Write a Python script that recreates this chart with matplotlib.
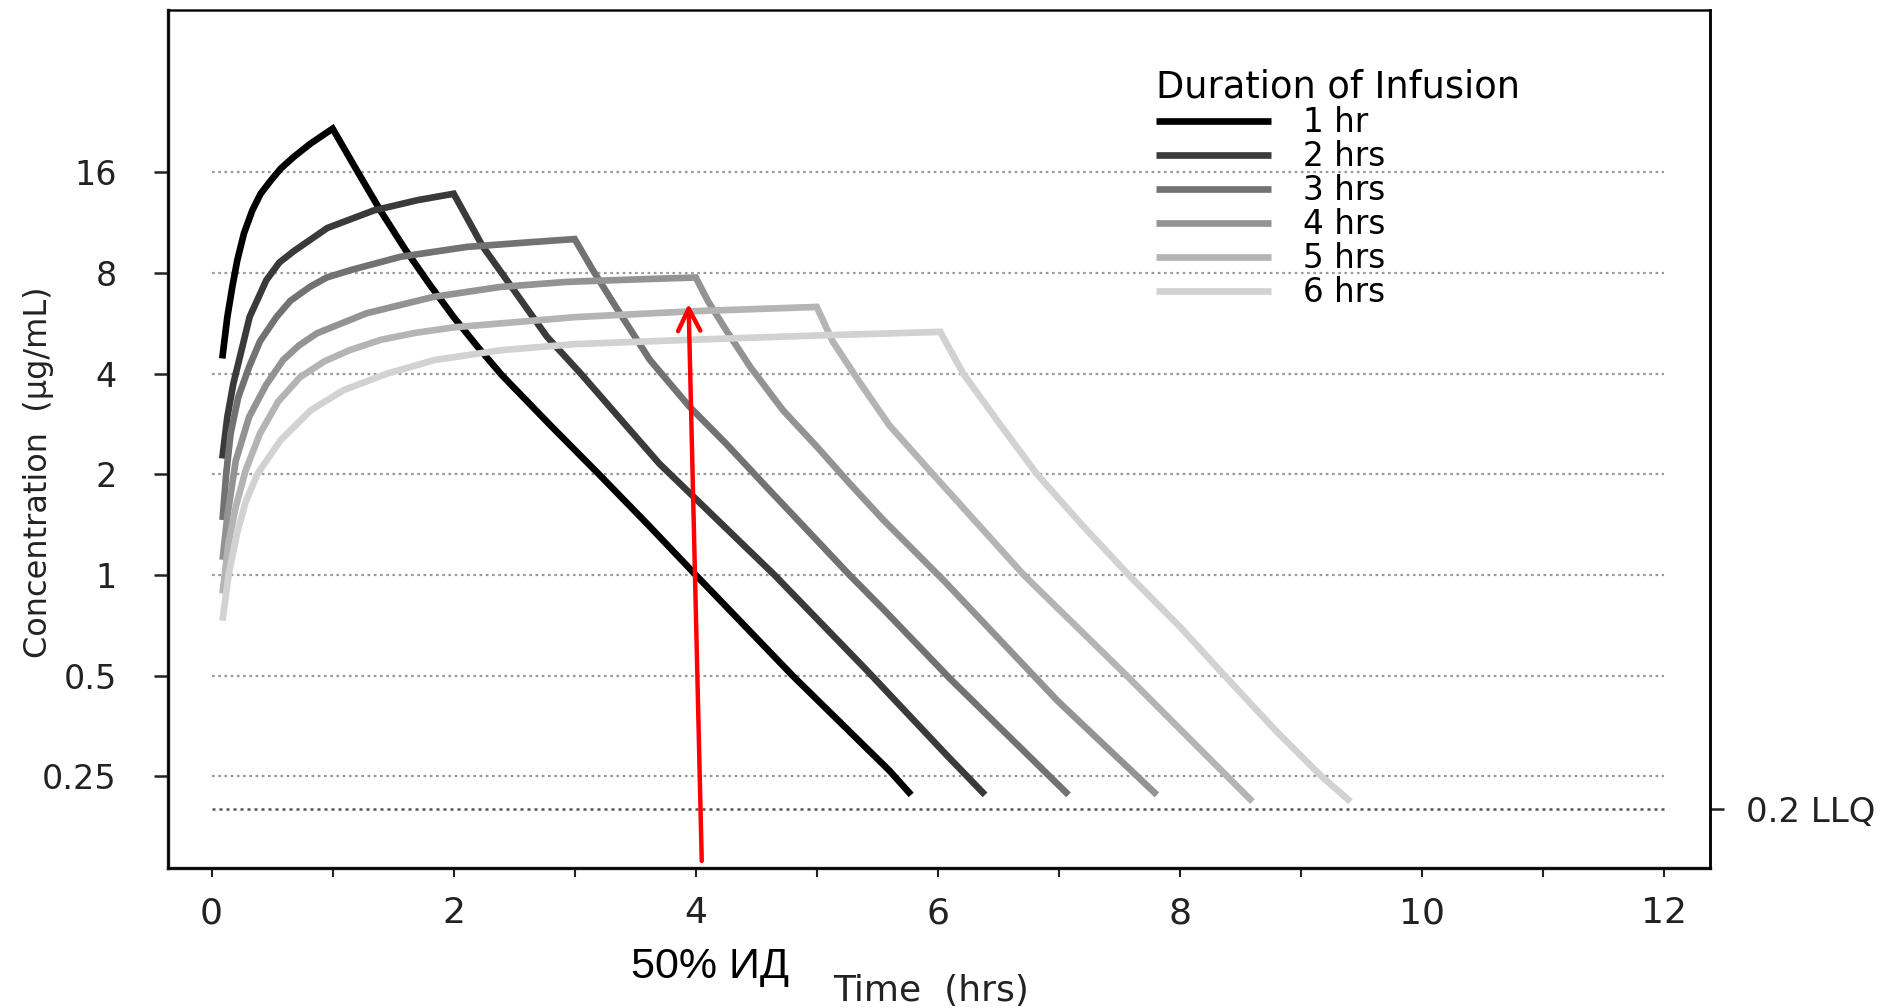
import numpy as np
import matplotlib.pyplot as plt

# concentration-time profiles (time in hrs, conc in ug/mL)
t_1hr = [0.088, 0.13, 0.171, 0.212, 0.267, 0.336, 0.405, 0.488, 0.57, 0.68, 0.818, 1.0,
         1.2, 1.4, 1.6, 1.8, 2.0, 2.2, 2.4, 2.8, 3.2, 3.6, 4.0, 4.8, 5.6, 5.78]
c_1hr = [4.44, 5.91, 7.27, 8.73, 10.5, 12.3, 13.8, 15.1, 16.4, 17.8, 19.5, 21.6,
         16.2, 12.2, 9.4, 7.4, 5.9, 4.8, 3.95, 2.8, 2.0, 1.42, 1.0, 0.5, 0.26, 0.22]

t_2hr = [0.088, 0.13, 0.18, 0.254, 0.314, 0.452, 0.56, 0.68, 0.956, 1.34, 1.7, 2.0,
         2.24, 2.44, 2.77, 3.05, 3.7, 4.65, 5.41, 6.07, 6.39]
c_2hr = [2.23, 2.97, 3.74, 4.81, 5.91, 7.61, 8.6, 9.3, 10.9, 12.3, 13.2, 13.8,
         9.6, 7.6, 5.16, 4.0, 2.15, 1.0, 0.52, 0.29, 0.22]

t_3hr = [0.09, 0.12, 0.157, 0.22, 0.31, 0.4, 0.535, 0.65, 0.81, 0.95, 1.15, 1.56, 2.11, 2.66, 3.0,
         3.15, 3.34, 3.62, 3.95, 4.25, 4.58, 5.0, 5.27, 5.55, 6.1, 7.08]
c_3hr = [1.46, 2.0, 2.65, 3.4, 4.19, 5.0, 5.9, 6.6, 7.26, 7.75, 8.16, 8.94, 9.57, 9.9, 10.1,
         8.15, 6.33, 4.4, 3.18, 2.47, 1.84, 1.27, 1.0, 0.79, 0.49, 0.22]

t_4hr = [0.09, 0.13, 0.2, 0.31, 0.45, 0.59, 0.72, 0.87, 1.28, 1.83, 2.38, 2.93, 3.5, 4.0,
         4.1, 4.25, 4.45, 4.72, 5.0, 5.27, 5.55, 6.04, 6.99, 7.81]
c_4hr = [1.11, 1.5, 2.2, 2.97, 3.7, 4.39, 4.85, 5.28, 6.06, 6.78, 7.26, 7.52, 7.65, 7.75,
         6.6, 5.4, 4.19, 3.11, 2.42, 1.88, 1.46, 0.97, 0.42, 0.22]

t_5hr = [0.09, 0.14, 0.2, 0.28, 0.4, 0.55, 0.73, 0.93, 1.14, 1.4, 1.69, 2.0, 3.0, 4.0, 5.0,
         5.13, 5.36, 5.6, 5.96, 6.71, 7.56, 8.6]
c_5hr = [0.88, 1.25, 1.6, 2.05, 2.65, 3.3, 3.9, 4.35, 4.7, 5.05, 5.3, 5.5, 5.9, 6.15, 6.33,
         5.0, 3.74, 2.8, 2.0, 1.0, 0.5, 0.21]

t_6hr = [0.09, 0.14, 0.21, 0.28, 0.38, 0.57, 0.82, 1.09, 1.45, 1.84, 2.39, 3.0, 3.9, 5.0, 6.02,
         6.21, 6.52, 6.82, 7.2, 7.6, 8.0, 8.37, 8.8, 9.17, 9.41]
c_6hr = [0.73, 1.0, 1.33, 1.65, 2.01, 2.53, 3.11, 3.57, 4.0, 4.39, 4.7, 4.9, 5.04, 5.2, 5.33,
         4.0, 2.8, 2.0, 1.4, 0.98, 0.7, 0.5, 0.34, 0.25, 0.21]

labels = ['1 hr', '2 hrs', '3 hrs', '4 hrs', '5 hrs', '6 hrs']
colors = ['#000000', '#3a3a3a', '#727272', '#939393', '#b4b4b4', '#d2d2d2']

yticks = [0.25, 0.5, 1, 2, 4, 8, 16]
ytick_labels = ['0.25', '0.5', '1', '2', '4', '8', '16']
llq = 0.2
xticks = list(range(13))
xtick_labels = [str(x) if x % 2 == 0 else '' for x in xticks]

plt.rcParams['font.family'] = ['DejaVu Sans']

fig = plt.figure(figsize=(18.86, 10.08), dpi=100)
ax = fig.add_axes([0.0891, 0.1389, 0.8176, 0.8512])

series = [(t_1hr, c_1hr), (t_2hr, c_2hr), (t_3hr, c_3hr),
          (t_4hr, c_4hr), (t_5hr, c_5hr), (t_6hr, c_6hr)]
for (t, c), lab, col in zip(series, labels, colors):
    ax.plot(t, c, color=col, lw=4.8, label=lab, solid_joinstyle='miter',
            solid_capstyle='butt', zorder=3)

# dotted reference lines
ax.hlines(yticks, 0, 12, colors='#9a9a9a', linestyles=(0, (1.2, 1.6)), lw=1.6, zorder=1)
ax.hlines([llq], 0, 12, colors='#555555', linestyles=(0, (1.2, 1.6)), lw=1.8, zorder=1)

ax.set_yscale('log', base=2)
ax.set_ylim(0.133, 48.9)
ax.set_xlim(-0.36, 12.38)
ax.set_yticks(yticks)
ax.set_yticklabels(ytick_labels)
ax.minorticks_off()
ax.set_xticks(xticks)
ax.set_xticklabels(xtick_labels)
ax.tick_params(axis='y', direction='out', length=10, width=1.8, pad=27,
               labelsize=24, colors='#222222')
ax.tick_params(axis='x', direction='out', length=6.5, width=1.5, pad=14,
               labelsize=26, colors='#222222')

for side in ['left', 'bottom']:
    ax.spines[side].set_linewidth(2.4)
    ax.spines[side].set_color('#1a1a1a')
for side in ['top', 'right']:
    ax.spines[side].set_linewidth(1.8)
    ax.spines[side].set_color('#1a1a1a')

# right axis with the LLQ mark
ax2 = ax.twinx()
ax2.set_yscale('log', base=2)
ax2.set_ylim(ax.get_ylim())
ax2.set_yticks([llq])
ax2.set_yticklabels(['0.2 LLQ'])
ax2.minorticks_off()
ax2.tick_params(axis='y', direction='out', length=10, width=1.8, pad=16,
                labelsize=24.5, colors='#222222')
ax2.spines['right'].set_linewidth(1.8)

ax.set_ylabel('Concentration  (\u00b5g/mL)', fontsize=23, color='#222222')
ax.yaxis.set_label_coords(-0.074, 0.4615)
ax.set_xlabel('Time  (hrs)', fontsize=26, color='#222222')
ax.xaxis.set_label_coords(0.495, -0.124)

leg = ax.legend(title='Duration of Infusion', loc='upper left',
                bbox_to_anchor=(0.641, 0.932), frameon=False, fontsize=23.5,
                title_fontsize=26.5, handlelength=3.5, handletextpad=1.0,
                labelspacing=0.03, borderpad=0, borderaxespad=0,
                alignment='left')
for h in leg.get_lines():
    h.set_linewidth(4.8)

# red arrow and annotation
ax.annotate('', xy=(3.94, 6.6), xytext=(4.05, 0.137),
            arrowprops=dict(arrowstyle='->', color='red', lw=3.2,
                            mutation_scale=40),
            annotation_clip=False, zorder=5)
fig.text(710 / 1886, 1 - 967 / 1008, '50% \u0418\u0414', fontsize=31,
         family=['Liberation Sans', 'DejaVu Sans'], ha='center', va='center')

fig.savefig('out.png', dpi=100)
